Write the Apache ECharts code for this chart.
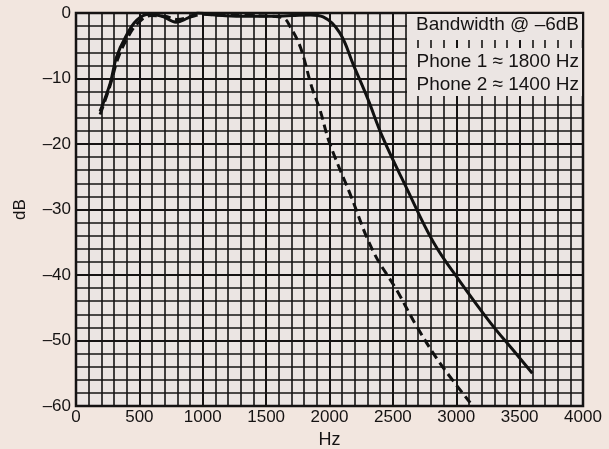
<!DOCTYPE html>
<html>
<head>
<meta charset="utf-8">
<script src="https://cdn.jsdelivr.net/npm/echarts@6/dist/echarts.min.js"></script>
<style>
  html, body { margin: 0; padding: 0; background: #f2e6df; }
  #chart { width: 609px; height: 449px; }
</style>
</head>
<body>
<div id="chart"></div>
<script>
// frequency response
const phone1Hz = [190, 270, 320, 390, 480, 580, 680, 790, 880, 960, 1100, 1300, 1500, 1700, 1850, 1950, 2080, 2190, 2300, 2420, 2610, 2820, 3030, 3270, 3450, 3600]
const phone1Db = [-15, -10.7, -6.7, -3.7, -1.1, -0.2, -0.5, -1.4, -0.8, 0, -0.3, -0.5, -0.5, -0.4, -0.3, -0.6, -3, -8, -13, -19, -26.8, -35, -41, -47.3, -51.5, -55]

const phone2Hz = [190, 270, 330, 400, 490, 590, 700, 800, 900, 1000, 1200, 1400, 1550, 1640, 1690, 1770, 1860, 1925, 2000, 2160, 2340, 2530, 2690, 2870, 3110]
const phone2Db = [-15.5, -11, -7, -4, -1.5, -0.4, -0.5, -1, -0.6, -0.2, -0.4, -0.4, -0.5, -0.8, -2.1, -5.2, -11.3, -14.8, -19.8, -27.5, -36.2, -42.3, -47.9, -53.4, -59.5]

const legendLines = ['Bandwidth @ \u20136dB', 'Phone 1 \u2248 1800 Hz', 'Phone 2 \u2248 1400 Hz']

const ink = '#151313'
const paper = '#ebe5e3'
const font = 'Liberation Sans'

const chart = echarts.init(document.getElementById('chart'))

function pairs(xs, ys) {
  return xs.map((x, i) => [x, ys[i]])
}

chart.setOption({
  backgroundColor: '#f2e6df',
  animation: false,
  grid: {
    left: 76, top: 13, width: 507, height: 393,
    outerBoundsMode: 'none',
    show: true,
    backgroundColor: paper,
    borderColor: ink,
    borderWidth: 2.5
  },
  xAxis: {
    type: 'value',
    min: 0, max: 4000, interval: 500,
    name: 'Hz',
    nameLocation: 'middle',
    nameGap: 24,
    nameTextStyle: { fontFamily: font, fontSize: 18, color: ink },
    axisLine: { show: false },
    axisTick: { show: false },
    axisLabel: { fontFamily: font, fontSize: 17, color: ink, margin: 3, formatter: v => String(v) },
    splitLine: { show: true, lineStyle: { color: ink, width: 2 } },
    minorTick: { show: false, splitNumber: 5 },
    minorSplitLine: { show: true, lineStyle: { color: ink, width: 1.6 } }
  },
  yAxis: {
    type: 'value',
    min: -60, max: 0, interval: 10,
    name: 'dB',
    nameLocation: 'middle',
    nameGap: 47,
    nameTextStyle: { fontFamily: font, fontSize: 17, color: ink },
    axisLine: { show: false },
    axisTick: { show: false },
    axisLabel: {
      fontFamily: font, fontSize: 17, color: ink, margin: 5,
      formatter: v => String(v).replace('-', '\u2013')
    },
    splitLine: { show: true, lineStyle: { color: ink, width: 2 } },
    minorTick: { show: false, splitNumber: 5 },
    minorSplitLine: { show: true, lineStyle: { color: ink, width: 1.6 } }
  },
  series: [
    {
      name: 'Phone 1',
      type: 'line',
      smooth: 0.4,
      symbol: 'none',
      lineStyle: { color: '#111', width: 3 },
      data: pairs(phone1Hz, phone1Db),
      z: 3
    },
    {
      name: 'Phone 2',
      type: 'line',
      smooth: 0.4,
      symbol: 'none',
      lineStyle: { color: '#111', width: 3, type: [9, 5] },
      data: pairs(phone2Hz, phone2Db),
      z: 3
    }
  ],
  graphic: [
    { type: 'rect', shape: { x: 407, y: 14, width: 175, height: 26 }, style: { fill: paper }, z: 10 },
    { type: 'rect', shape: { x: 407, y: 48, width: 175, height: 48 }, style: { fill: paper }, z: 10 },
    {
      type: 'text', x: 579, y: 25, z: 11,
      style: { text: legendLines[0], align: 'right', verticalAlign: 'middle', font: '19px "Liberation Sans"', fill: ink }
    },
    {
      type: 'text', x: 579, y: 62, z: 11,
      style: { text: legendLines[1], align: 'right', verticalAlign: 'middle', font: '19px "Liberation Sans"', fill: ink }
    },
    {
      type: 'text', x: 579, y: 85, z: 11,
      style: { text: legendLines[2], align: 'right', verticalAlign: 'middle', font: '19px "Liberation Sans"', fill: ink }
    }
  ]
})
</script>
</body>
</html>
